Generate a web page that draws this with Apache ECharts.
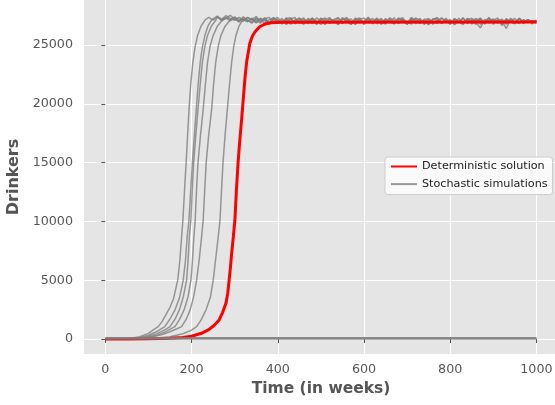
<!DOCTYPE html>
<html><head><meta charset="utf-8">
<script src="https://cdn.jsdelivr.net/npm/echarts@6/dist/echarts.min.js"></script>
<style>html,body{margin:0;padding:0;background:#fff}#c{width:555px;height:405px}</style>
</head><body><div id="c"></div>
<script>
const weekTicks = [0, 200, 400, 600, 800, 1000];
const drinkerTicks = [0, 5000, 10000, 15000, 20000, 25000];

const deterministic = [[0,0],[50,3],[100,14],[150,55],[180,120],[200,230],[223,485],[240,800],[252,1150],[264,1620],[272,2250],[280,3050],[284,3900],[287,4900],[290,6000],[293,7250],[297,8700],[300.6,10100],[304,12600],[308,15000],[312,16900],[316,18600],[320,20400],[324,22200],[328,23600],[335,25100],[341,25750],[347,26100],[358,26550],[370,26780],[385,26890],[410,26940],[1000,26950]];

const simA_rise = [[0,0],[40,15],[60,60],[80,200],[100,480],[112,800],[122.8,1050],[132,1500],[142,2150],[150,2700],[158,3400],[163,4200],[168,5000],[173,6700],[177,8700],[180,10100],[184,12800],[187.5,15000],[191,17400],[194,19400],[198,21600],[203,23500],[208,24800],[214,25800],[222,26600],[232,27150]];
const simA_plateauFrom = 240;
const simA_plateau = [27350,27120,27400,27050,27280,27180,27330,26980,27210,27090,
26850,27230,27020,27300,26800,27120,26950,27260,26780,27180,
26900,27310,26820,27080,27240,26870,27150,26760,27200,26940,
27320,26860,27090,27220,26740,27160,26920,27280,26810,27070,
27250,26830,27130,26890,27300,26990,26770,27210,27100,26850,
27180,26720,27140,27290,26880,27060,26790,27230,26950,26840,
27270,27010,26760,27190,26900,27330,26830,27110,26780,27240,
26960,26800,27270,26880,27150,26820,27120];

const simB_rise = [[0,0],[40,10],[60,40],[80,130],[100,320],[120,640],[138,1050],[150,1700],[162,2500],[172,3500],[180.8,5000],[186,6700],[190,8700],[194,10100],[198,12600],[202,15000],[206.5,17300],[211,19500],[215,21500],[220,23500],[225,24800],[231,25800],[238,26600],[247,27150]];
const simB_plateauFrom = 250;
const simB_plateau = [27300,27450,27150,27320,27060,27280,26950,27380,27040,27200,
26880,27260,26790,27150,27310,26860,27090,26750,27220,27340,
26830,27120,26900,27270,26770,27180,27300,26850,27060,26730,
27240,27100,26820,27290,26880,27020,27360,26900,27170,26780,
27250,26960,26840,27200,27310,26800,27110,26920,27260,26740,
27180,26990,26830,27280,27050,26790,27210,26880,27330,26820,
27130,27240,26760,27050,27290,26870,27140,26650,27200,26990,
26840,27260,26920,27150,26810,27080];

const simC_rise = [[0,0],[40,8],[60,30],[80,90],[100,220],[120,460],[140,820],[150,1050],[162,1700],[172,2500],[181,3600],[188.6,5000],[192,6700],[195,8700],[198.5,10100],[201.5,12600],[205,15000],[210,17400],[215,19500],[220,21600],[225,23500],[231,24900],[237,25800],[246,26600],[257,27150]];
const simC_plateauFrom = 260;
const simC_plateau = [27380,27200,27500,27260,27100,27340,27150,26980,27290,27060,
26860,27230,27350,26900,27120,26780,27250,27310,26840,27040,
27200,26800,27290,27060,26740,27150,27330,26880,27110,26820,
27270,26990,26790,27180,27300,26870,27050,27240,26760,27120,
26930,27320,26820,27160,27000,26770,27280,27110,26860,27230,
26810,27070,27310,26900,27170,26730,27020,27260,26840,27150,
26920,27290,26790,27100,27210,26860,27050,26400,27180,26900,
27250,26830,27130,26990,26880];

const simD_rise = [[0,0],[50,10],[80,60],[100,150],[120,330],[140,620],[161.5,1050],[172,1650],[183,2500],[192,3600],[198.6,5000],[202,6600],[205.5,8700],[208.5,10100],[211.5,12600],[215,15000],[221,17400],[227,19500],[232,21600],[237,23500],[243,24900],[250,25800],[260,26600],[272,27150]];
const simD_plateauFrom = 280;
const simD_plateau = [27300,27520,27180,27020,27380,27110,26920,27290,27040,27200,
26830,27330,27080,26880,27240,26770,27120,27280,26900,27160,
26820,27310,27030,26760,27220,27090,26850,27340,27000,26750,
27190,27290,26870,27060,27250,26800,27140,26930,27310,26830,
27050,27220,26760,27130,27280,26880,27020,26790,27200,27320,
26860,27100,26810,27240,26990,26740,27160,27270,26900,26450,
27180,26850,27070,27300,26800,27140,26980,26870,27260,26820,
27150,26930,27060];

const simE_rise = [[0,0],[60,10],[100,100],[130,350],[150,620],[165,850],[177,1050],[188,1700],[197,2500],[205,3600],[211.8,5000],[218,6800],[223.4,8700],[227,10100],[230.5,12600],[234,15000],[240,17400],[246.6,19500],[251,21600],[256,23500],[262,24900],[268,25800],[278,26600],[290,27150]];
const simE_plateauFrom = 300;
const simE_plateau = [27400,27180,27020,27330,27110,26920,27280,27050,26830,27240,
27120,26880,27310,26800,27150,27010,26760,27260,27080,26860,
27300,26830,27190,27040,26770,27130,27340,26850,27060,27220,
26740,27110,26940,27290,26820,27170,27000,26780,27250,27080,
26870,27320,26810,27140,26990,26750,27230,27100,26840,27180,
27030,26790,27270,26910,27150,26830,27220,27050,26880,27300,
26760,27090,27200,26850,27040,27260,26820,27130,26930,27070,
26990];

const simF_rise = [[0,0],[80,10],[120,80],[150,200],[180,450],[200,760],[211.8,1050],[222,1600],[234,2500],[244,3600],[250.3,5000],[256,6800],[262,8700],[266,10100],[269.5,12600],[273,15000],[278,17400],[283,19500],[288,21600],[293,23500],[298,24900],[303,25800],[310,26600],[318,27100]];
const simF_plateauFrom = 330;
const simF_plateau = [27350,27150,27420,27030,27290,26920,27180,27340,26860,27090,
27250,26800,27140,27300,26880,27060,26770,27240,27100,26830,
27170,27320,26850,27050,26760,27210,27080,26900,27290,26820,
27130,27000,26780,27260,27090,26860,27190,26800,27330,26970,
26840,27160,27240,26770,27080,26890,27280,26810,27140,27030,
26850,27220,26790,27100,27250,26830,27020,27180,26880,27090,
26760,27270,26960,26850,27150,26900,27060,26870];

const extinctA = [[0,0],[1000,0]];
const extinctB = [[0,60],[1000,60]];
const extinctC = [[0,110],[1000,110]];

function buildSim(rise, from, plateau) {
  const pts = rise.map(p => [p[0], p[1]]);
  plateau.forEach((v, i) => pts.push([from + 10 * i, v]));
  return pts;
}

const SIM = 'Stochastic simulations';
const DET = 'Deterministic solution';
const GRAY = 'rgba(128,128,128,0.8)';

function simSeries(data, z) {
  return {name: SIM, type: 'line', data: data, symbol: 'none', z: z,
          lineStyle: {color: GRAY, width: 1.5}, itemStyle: {color: GRAY}};
}

const series = [
  simSeries(buildSim(simA_rise, simA_plateauFrom, simA_plateau), 2),
  simSeries(buildSim(simB_rise, simB_plateauFrom, simB_plateau), 2),
  simSeries(buildSim(simC_rise, simC_plateauFrom, simC_plateau), 2),
  simSeries(buildSim(simD_rise, simD_plateauFrom, simD_plateau), 2),
  simSeries(buildSim(simE_rise, simE_plateauFrom, simE_plateau), 2),
  simSeries(buildSim(simF_rise, simF_plateauFrom, simF_plateau), 2),
  {name: DET, type: 'line', data: deterministic, symbol: 'none', z: 3,
   lineStyle: {color: '#ff0000', width: 3}, itemStyle: {color: '#ff0000'}},
  simSeries(extinctA, 4),
  simSeries(extinctB, 4),
  simSeries(extinctC, 4)
];

const FONT = 'DejaVu Sans';
const plain = v => String(v);
const chart = echarts.init(document.getElementById('c'), null, {renderer: 'canvas'});
chart.setOption({
  animation: false,
  backgroundColor: '#ffffff',
  grid: {left: 84, top: 0, width: 474, height: 354, outerBoundsMode: 'none', containLabel: false,
         show: true, backgroundColor: '#e5e5e5', borderWidth: 0},
  xAxis: {
    type: 'value', min: -49.4, max: 1050,
    axisLine: {show: false},
    axisTick: {show: true, customValues: weekTicks, length: 4, lineStyle: {color: '#555555', width: 1}},
    axisLabel: {customValues: weekTicks, formatter: plain, color: '#555555', fontSize: 12.7, fontFamily: FONT, margin: 9},
    splitLine: {show: true, lineStyle: {color: '#ffffff', width: 1.1}},
    name: 'Time (in weeks)', nameLocation: 'middle', nameGap: 26,
    nameTextStyle: {color: '#555555', fontSize: 15.5, fontWeight: 'bold', fontFamily: FONT}
  },
  yAxis: {
    type: 'value', min: -1275, max: 28826,
    axisLine: {show: false},
    axisTick: {show: true, customValues: drinkerTicks, length: 4, lineStyle: {color: '#555555', width: 1}},
    axisLabel: {customValues: drinkerTicks, formatter: plain, color: '#555555', fontSize: 12.7, fontFamily: FONT, margin: 11},
    splitLine: {show: true, lineStyle: {color: '#ffffff', width: 1.1}},
    name: 'Drinkers', nameLocation: 'middle', nameGap: 56,
    nameTextStyle: {color: '#555555', fontSize: 16, fontWeight: 'bold', fontFamily: FONT}
  },
  legend: {
    orient: 'vertical', left: 385, top: 157,
    data: [DET, SIM],
    backgroundColor: 'rgba(255,255,255,0.8)', borderColor: '#cccccc', borderWidth: 1, borderRadius: 3,
    padding: [3, 5, 4, 5], itemWidth: 26, itemHeight: 12, itemGap: 4.6,
    itemStyle: {opacity: 0},
    textStyle: {fontSize: 11.2, color: '#222222', fontFamily: FONT, lineHeight: 13}
  },
  series: series
});
</script>
</body></html>
